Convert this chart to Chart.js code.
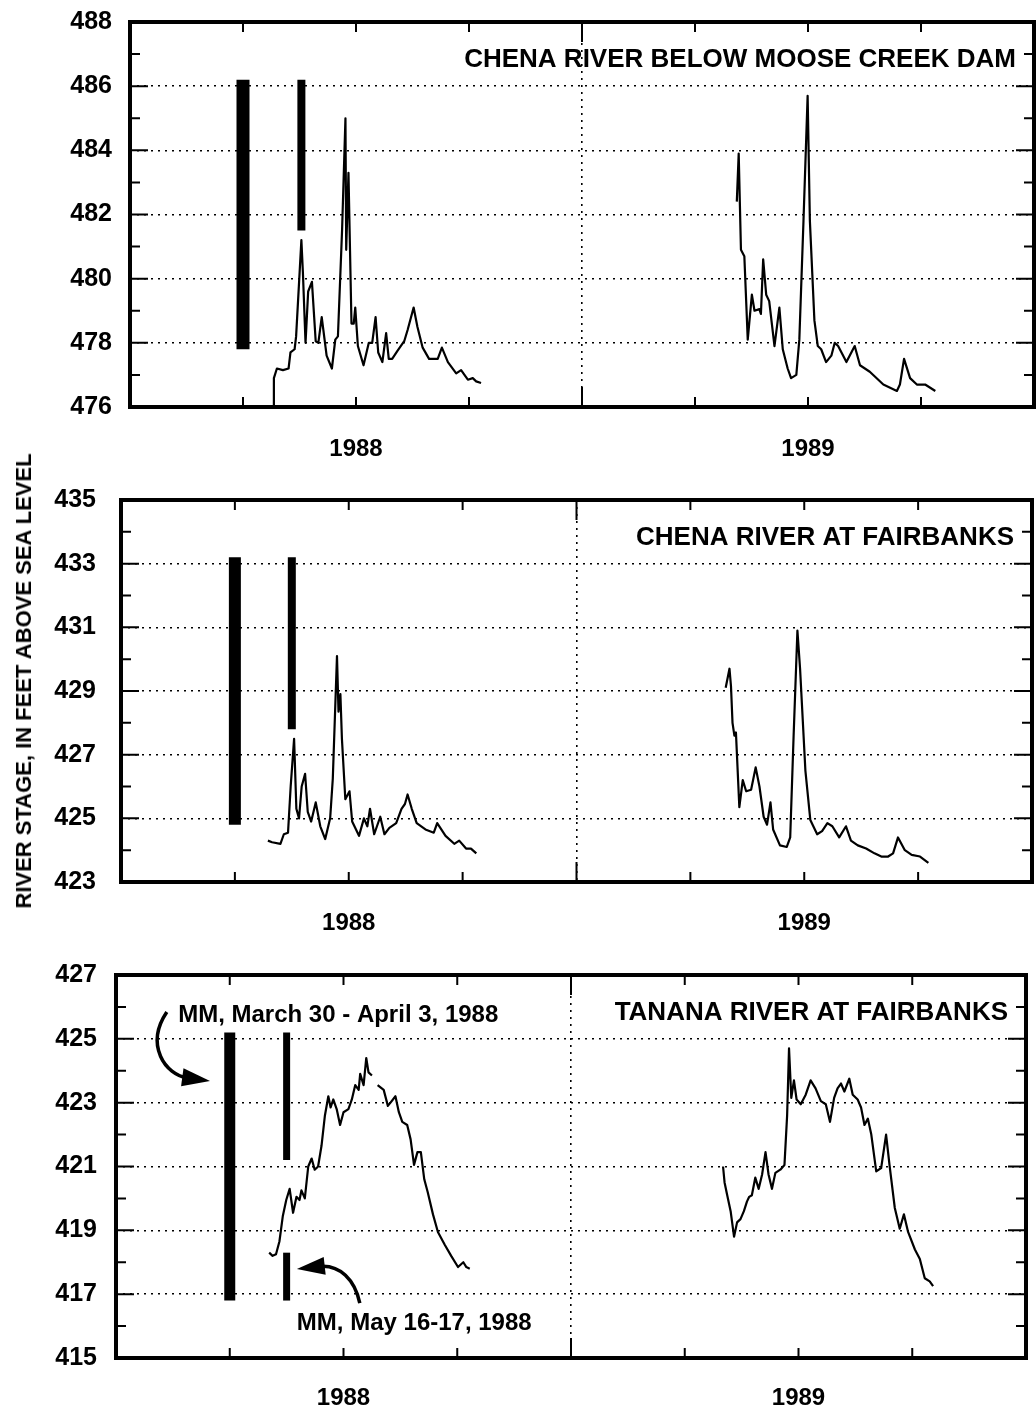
<!DOCTYPE html>
<html>
<head>
<meta charset="utf-8">
<title>River stage, Chena and Tanana rivers, 1988-1989</title>
<script src="https://cdn.jsdelivr.net/npm/chart.js@4.4.1/dist/chart.umd.min.js"></script>
<style>
  html, body { margin: 0; padding: 0; background: #fff; }
  #page { position: relative; width: 1036px; height: 1416px; overflow: hidden; background: #fff; }
  .panel { position: absolute; left: 0; width: 1036px; }
  #ytitle {
    position: absolute; left: 24px; top: 681px;
    transform: translate(-50%, -50%) rotate(-90deg);
    font: bold 22px 'Liberation Sans', Arial, Helvetica, sans-serif;
    white-space: nowrap; color: #000;
  }
</style>
</head>
<body>
<div id="page">
  <div class="panel" style="top:0;height:470px"><canvas id="dam"></canvas></div>
  <div class="panel" style="top:470px;height:480px"><canvas id="chena"></canvas></div>
  <div class="panel" style="top:950px;height:466px"><canvas id="tanana"></canvas></div>
  <div id="ytitle">RIVER STAGE, IN FEET ABOVE SEA LEVEL</div>
</div>
<script>
// x values are months counted from January 1, 1988
const yearTicks = [6, 18];
const yearNames = ['1988', '1989'];

// Chena River below Moose Creek Dam
const damMonths88 = [3.80, 3.82, 3.90, 4.06, 4.21, 4.26, 4.37, 4.41, 4.55, 4.59, 4.66, 4.73, 4.83, 4.93, 5.00,
  5.09, 5.22, 5.36, 5.45, 5.52, 5.63, 5.72, 5.74, 5.80, 5.88, 5.94, 5.98, 6.05, 6.20, 6.34, 6.43, 6.52, 6.59,
  6.70, 6.80, 6.87, 6.96, 7.10, 7.28, 7.37, 7.53, 7.63, 7.77, 7.94, 8.17, 8.28, 8.44, 8.66, 8.79, 8.97, 9.10,
  9.19, 9.32];
const damStage88 = [476.0, 476.9, 477.2, 477.15, 477.2, 477.7, 477.8, 478.2, 481.2, 480.2, 478.0, 479.6, 479.9,
  478.05, 478.0, 478.8, 477.6, 477.2, 478.1, 478.2, 481.5, 485.0, 480.9, 483.3, 478.6, 478.6, 479.1, 477.9,
  477.3, 478.0, 478.0, 478.8, 477.7, 477.4, 478.3, 477.5, 477.5, 477.75, 478.05, 478.4, 479.1, 478.5, 477.85,
  477.5, 477.5, 477.85, 477.4, 477.05, 477.15, 476.85, 476.9, 476.8, 476.75];
const damMonths89 = [16.11, 16.16, 16.22, 16.31, 16.40, 16.51, 16.58, 16.71, 16.75, 16.81, 16.89, 16.97, 17.11,
  17.24, 17.33, 17.46, 17.55, 17.69, 17.77, 17.88, 17.99, 18.05, 18.17, 18.26, 18.35, 18.48, 18.62, 18.71,
  18.80, 19.02, 19.24, 19.38, 19.64, 20.00, 20.36, 20.44, 20.55, 20.71, 20.89, 21.11, 21.38];
const damStage89 = [482.4, 483.9, 480.9, 480.7, 478.1, 479.5, 479.0, 479.05, 478.9, 480.6, 479.5, 479.3, 477.9,
  479.1, 477.8, 477.2, 476.9, 477.0, 478.1, 481.8, 485.7, 481.8, 478.7, 477.9, 477.8, 477.4, 477.6, 478.0,
  477.9, 477.4, 477.9, 477.3, 477.1, 476.7, 476.5, 476.7, 477.5, 476.9, 476.7, 476.7, 476.5];
const damMarkMonths = [3.0, 4.55];
const damMarkLow = [477.8, 481.5];
const damMarkHigh = [486.2, 486.2];

// Chena River at Fairbanks
const chenaMonths88 = [3.87, 3.98, 4.20, 4.29, 4.40, 4.47, 4.56, 4.62, 4.69, 4.76, 4.85, 4.92, 5.01, 5.13, 5.25,
  5.38, 5.51, 5.58, 5.69, 5.73, 5.78, 5.82, 5.91, 6.02, 6.09, 6.27, 6.40, 6.49, 6.56, 6.67, 6.83, 6.94, 7.07,
  7.25, 7.39, 7.48, 7.55, 7.66, 7.79, 8.02, 8.24, 8.33, 8.55, 8.78, 8.91, 9.09, 9.22, 9.36];
const chenaStage88 = [424.3, 424.25, 424.2, 424.5, 424.55, 426.0, 427.5, 425.3, 425.0, 426.0, 426.4, 425.2, 424.9,
  425.5, 424.75, 424.35, 425.0, 426.25, 430.1, 428.35, 428.9, 427.5, 425.6, 425.85, 424.9, 424.45, 425.0,
  424.75, 425.3, 424.5, 425.05, 424.5, 424.7, 424.85, 425.3, 425.45, 425.75, 425.3, 424.85, 424.65, 424.55,
  424.85, 424.45, 424.2, 424.3, 424.05, 424.05, 423.9];
const chenaMonths89 = [15.93, 16.03, 16.07, 16.11, 16.16, 16.20, 16.29, 16.38, 16.47, 16.60, 16.72, 16.82, 16.93,
  17.02, 17.11, 17.18, 17.36, 17.54, 17.63, 17.72, 17.82, 17.89, 18.03, 18.16, 18.34, 18.47, 18.61, 18.74,
  18.92, 19.10, 19.23, 19.41, 19.63, 19.85, 20.03, 20.21, 20.34, 20.47, 20.65, 20.83, 21.05, 21.27];
const chenaStage89 = [429.1, 429.7, 429.15, 428.0, 427.6, 427.7, 425.35, 426.2, 425.85, 425.9, 426.6, 426.0,
  425.05, 424.8, 425.5, 424.65, 424.15, 424.1, 424.4, 427.6, 430.9, 429.7, 426.5, 424.95, 424.5, 424.6, 424.85,
  424.75, 424.4, 424.75, 424.3, 424.15, 424.05, 423.9, 423.8, 423.8, 423.9, 424.4, 424.0, 423.85, 423.8, 423.6];
const chenaMarkMonths = [3.0, 4.5];
const chenaMarkLow = [424.8, 427.8];
const chenaMarkHigh = [433.2, 433.2];

// Tanana River at Fairbanks (null = missing record)
const tananaMonths88 = [4.04, 4.13, 4.22, 4.31, 4.40, 4.49, 4.58, 4.67, 4.76, 4.84, 4.89, 4.98, 5.07, 5.16, 5.24,
  5.33, 5.42, 5.51, 5.60, 5.66, 5.73, 5.82, 5.91, 6.00, 6.13, 6.22, 6.31, 6.40, 6.44, 6.53, 6.60, 6.66, 6.75,
  6.82, 6.90, 7.06, 7.17, 7.24, 7.37, 7.46, 7.55, 7.68, 7.77, 7.86, 7.95, 8.04, 8.13, 8.22, 8.36, 8.49, 8.67,
  8.84, 9.02, 9.16, 9.24, 9.33];
const tananaStage88 = [418.3, 418.2, 418.25, 418.65, 419.45, 419.95, 420.3, 419.55, 420.05, 419.95, 420.25, 420.0,
  421.0, 421.25, 420.9, 421.0, 421.65, 422.6, 423.2, 422.85, 423.1, 422.8, 422.3, 422.7, 422.8, 423.1, 423.55,
  423.4, 423.9, 423.55, 424.4, 423.95, 423.85, null, 423.55, 423.4, 422.9, 423.0, 423.2, 422.7, 422.4, 422.3,
  421.85, 421.05, 421.45, 421.45, 420.6, 420.2, 419.5, 418.95, 418.55, 418.2, 417.85, 418.0, 417.85, 417.8];
const tananaMonths89 = [16.01, 16.05, 16.12, 16.21, 16.30, 16.38, 16.47, 16.56, 16.64, 16.70, 16.77, 16.86, 16.95,
  17.04, 17.13, 17.21, 17.30, 17.39, 17.52, 17.63, 17.70, 17.75, 17.81, 17.88, 17.95, 18.06, 18.19, 18.32,
  18.45, 18.59, 18.72, 18.83, 18.94, 19.03, 19.12, 19.21, 19.34, 19.43, 19.56, 19.65, 19.74, 19.83, 19.92,
  20.05, 20.18, 20.31, 20.40, 20.54, 20.67, 20.78, 20.89, 21.07, 21.20, 21.33, 21.46, 21.55];
const tananaStage89 = [421.0, 420.5, 420.1, 419.6, 418.8, 419.25, 419.35, 419.6, 419.9, 420.05, 420.1, 420.65,
  420.3, 420.75, 421.45, 420.75, 420.3, 420.8, 420.9, 421.05, 422.6, 424.7, 423.15, 423.7, 423.1, 422.95,
  423.25, 423.7, 423.45, 423.05, 422.95, 422.4, 423.15, 423.45, 423.6, 423.35, 423.75, 423.25, 423.1, 422.85,
  422.3, 422.5, 422.0, 420.85, 420.95, 422.0, 421.05, 419.7, 419.05, 419.5, 418.95, 418.4, 418.1, 417.5,
  417.4, 417.25];
const tananaMarkMonths = [3.0, 4.5, 4.5];
const tananaMarkLow = [416.8, 421.2, 416.8];
const tananaMarkHigh = [425.2, 425.2, 418.3];

// annotation labels and arrows, placed in (month, stage) units
const noteTexts = ['MM, March 30 - April 3, 1988', 'MM, May 16-17, 1988'];
const noteMonths = [1.64, 4.77];
const noteStages = [425.75, 416.1];
const arrowMonths = [[1.34, 0.76, 1.29, 2.48], [6.43, 6.30, 5.91, 4.77]];
const arrowStages = [[425.84, 424.81, 423.87, 423.68], [416.72, 417.44, 417.94, 417.79]];

const FONT = "'Liberation Sans', Arial, Helvetica, sans-serif";

function pairs(xs, ys) {
  return xs.map((x, i) => ({ x: x, y: ys[i] }));
}

function stageLine(xs, ys) {
  return {
    type: 'line', data: pairs(xs, ys), borderColor: '#000', borderWidth: 2.2,
    pointRadius: 0, tension: 0, spanGaps: false, fill: false, borderJoinStyle: 'round'
  };
}

function markBars(xs, lows, highs, widths) {
  return xs.map((x, i) => ({
    type: 'line', data: [{ x: x, y: lows[i] }, { x: x, y: highs[i] }],
    borderColor: '#000', borderWidth: widths[i], borderCapStyle: 'butt', pointRadius: 0
  }));
}

function framePlugin(title, extra) {
  return {
    id: 'frame',
    afterDraw(chart) {
      const ctx = chart.ctx, a = chart.chartArea;
      const xs = chart.scales.x, ys = chart.scales.y;
      ctx.save();
      ctx.strokeStyle = '#000';
      ctx.fillStyle = '#000';
      ctx.lineWidth = 2;
      ctx.beginPath();
      for (let v = ys.min; v <= ys.max; v++) {
        const py = ys.getPixelForValue(v);
        const len = (v - ys.min) % 2 === 0 ? 18 : 10;
        ctx.moveTo(a.left, py); ctx.lineTo(a.left + len, py);
        ctx.moveTo(a.right, py); ctx.lineTo(a.right - len, py);
      }
      for (let v = xs.min; v <= xs.max; v += 3) {
        const px = xs.getPixelForValue(v);
        const len = v === 12 ? 20 : 10;
        ctx.moveTo(px, a.bottom); ctx.lineTo(px, a.bottom - len);
        ctx.moveTo(px, a.top); ctx.lineTo(px, a.top + len);
      }
      ctx.stroke();
      ctx.lineWidth = 4;
      ctx.strokeRect(a.left, a.top, a.right - a.left, a.bottom - a.top);
      ctx.font = 'bold 26px ' + FONT;
      ctx.textAlign = 'right';
      ctx.textBaseline = 'middle';
      ctx.fillText(title, a.right - 18, a.top + 38);
      if (extra) extra(ctx, xs, ys);
      ctx.restore();
    }
  };
}

function drawNotes(ctx, xs, ys) {
  ctx.font = 'bold 24px ' + FONT;
  ctx.textAlign = 'left';
  ctx.textBaseline = 'middle';
  noteTexts.forEach((t, i) => {
    ctx.fillText(t, xs.getPixelForValue(noteMonths[i]), ys.getPixelForValue(noteStages[i]));
  });
  arrowMonths.forEach((ms, i) => {
    const p = ms.map((m, j) => ({ x: xs.getPixelForValue(m), y: ys.getPixelForValue(arrowStages[i][j]) }));
    const ang = Math.atan2(p[3].y - p[2].y, p[3].x - p[2].x);
    const L = 28, W = 9;
    const bx = p[3].x - L * Math.cos(ang), by = p[3].y - L * Math.sin(ang);
    ctx.lineWidth = 3.5;
    ctx.beginPath();
    ctx.moveTo(p[0].x, p[0].y);
    ctx.bezierCurveTo(p[1].x, p[1].y, p[2].x, p[2].y, bx + 6 * Math.cos(ang), by + 6 * Math.sin(ang));
    ctx.stroke();
    ctx.beginPath();
    ctx.moveTo(p[3].x, p[3].y);
    ctx.lineTo(bx - W * Math.sin(ang), by + W * Math.cos(ang));
    ctx.lineTo(bx + W * Math.sin(ang), by - W * Math.cos(ang));
    ctx.closePath();
    ctx.fill();
  });
}

function makePanel(id, cfg) {
  const yMin = cfg.yMin, yMax = yMin + 12;
  new Chart(document.getElementById(id), {
    type: 'line',
    data: { datasets: cfg.datasets },
    options: {
      responsive: true, maintainAspectRatio: false, animation: false,
      devicePixelRatio: 1, events: [],
      layout: { padding: { left: 0, right: 1036 - cfg.right, top: cfg.padTop, bottom: 0 } },
      plugins: { legend: { display: false }, tooltip: { enabled: false } },
      scales: {
        x: {
          type: 'linear', min: 0, max: 24,
          afterFit: s => { s.height = cfg.xHeight; s.paddingLeft = 0; s.paddingRight = 0; },
          grid: {
            drawTicks: false, lineWidth: 1.6,
            color: c => (c.tick && c.tick.value === 12 ? '#000' : 'rgba(0,0,0,0)')
          },
          border: { display: false, dash: [2, 5] },
          ticks: {
            stepSize: 3, autoSkip: false, maxRotation: 0, padding: cfg.yearPad, color: '#000',
            font: { family: FONT, size: 24, weight: 'bold' },
            callback: v => { const k = yearTicks.indexOf(v); return k >= 0 ? yearNames[k] : ''; }
          }
        },
        y: {
          type: 'linear', min: yMin, max: yMax,
          afterFit: s => { s.width = cfg.left; s.paddingTop = 0; s.paddingBottom = 0; },
          grid: {
            drawTicks: false, lineWidth: 1.6,
            color: c => {
              const v = c.tick ? c.tick.value : yMin;
              return ((v - yMin) % 2 === 0 && v !== yMin && v !== yMax) ? '#000' : 'rgba(0,0,0,0)';
            }
          },
          border: { display: false, dash: [2, 5] },
          ticks: {
            stepSize: 1, autoSkip: false, padding: cfg.labelPad, color: '#000',
            font: { family: FONT, size: 25, weight: 'bold' },
            callback: v => ((v - yMin) % 2 === 0 ? String(v) : '')
          }
        }
      }
    },
    plugins: [framePlugin(cfg.title, cfg.extra)]
  });
}

makePanel('dam', {
  title: 'CHENA RIVER BELOW MOOSE CREEK DAM', yMin: 476,
  left: 130, right: 1034, padTop: 22, xHeight: 63, yearPad: 28, labelPad: 18,
  datasets: [stageLine(damMonths88, damStage88), stageLine(damMonths89, damStage89)]
    .concat(markBars(damMarkMonths, damMarkLow, damMarkHigh, [13, 8]))
});

makePanel('chena', {
  title: 'CHENA RIVER AT FAIRBANKS', yMin: 423,
  left: 121, right: 1032, padTop: 30, xHeight: 68, yearPad: 27, labelPad: 25,
  datasets: [stageLine(chenaMonths88, chenaStage88), stageLine(chenaMonths89, chenaStage89)]
    .concat(markBars(chenaMarkMonths, chenaMarkLow, chenaMarkHigh, [12, 8]))
});

makePanel('tanana', {
  title: 'TANANA RIVER AT FAIRBANKS', yMin: 415,
  left: 116, right: 1026, padTop: 25, xHeight: 58, yearPad: 26, labelPad: 19,
  datasets: [stageLine(tananaMonths88, tananaStage88), stageLine(tananaMonths89, tananaStage89)]
    .concat(markBars(tananaMarkMonths, tananaMarkLow, tananaMarkHigh, [11, 7, 7])),
  extra: drawNotes
});
</script>
</body>
</html>
